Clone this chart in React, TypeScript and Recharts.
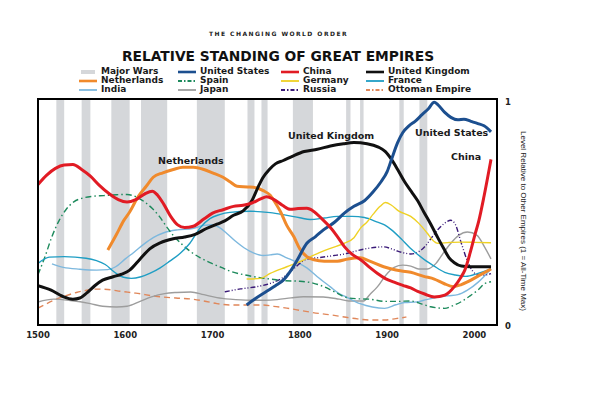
import React from 'react';
import { ComposedChart, Line, XAxis, YAxis, ReferenceArea } from 'recharts';

type Pt = [number, number];

// years of the major wars (shaded bands)
const warPeriods: Pt[] = [
  [1521, 1530], [1550, 1560], [1584, 1605], [1618, 1648], [1682, 1714], [1740, 1748],
  [1756, 1763], [1792, 1815], [1853, 1858], [1869, 1873], [1914, 1919], [1937, 1946],
];

const xTicks = [1500, 1600, 1700, 1800, 1900, 2000];
const yTicks = [0, 1];

const unitedStates: Pt[] = [
  [1739, 0.094], [1750, 0.125], [1762, 0.155], [1772, 0.18], [1781, 0.205], [1790, 0.25],
  [1797, 0.295], [1808, 0.37], [1818, 0.4], [1827, 0.43], [1840, 0.465], [1851, 0.505],
  [1862, 0.535], [1874, 0.56], [1884, 0.6], [1893, 0.645], [1900, 0.69], [1905, 0.745],
  [1912, 0.82], [1918, 0.865], [1925, 0.895], [1932, 0.915], [1940, 0.945], [1947, 0.97],
  [1954, 1.0], [1958, 0.99], [1966, 0.955], [1973, 0.933], [1981, 0.922], [1988, 0.925],
  [1996, 0.915], [2004, 0.905], [2011, 0.895], [2019, 0.868],
];

const china: Pt[] = [
  [1500, 0.633], [1510, 0.675], [1520, 0.705], [1530, 0.72], [1540, 0.722], [1550, 0.7],
  [1560, 0.67], [1570, 0.63], [1582, 0.59], [1592, 0.565], [1602, 0.554], [1612, 0.565],
  [1622, 0.59], [1631, 0.603], [1637, 0.585], [1644, 0.545], [1652, 0.49], [1660, 0.452],
  [1668, 0.44], [1678, 0.446], [1690, 0.478], [1700, 0.505], [1712, 0.52], [1724, 0.535],
  [1735, 0.54], [1745, 0.55], [1755, 0.568], [1762, 0.578], [1770, 0.566], [1780, 0.54],
  [1789, 0.522], [1798, 0.525], [1808, 0.526], [1816, 0.512], [1825, 0.48], [1835, 0.44],
  [1843, 0.4], [1851, 0.355], [1860, 0.32], [1870, 0.295], [1880, 0.262], [1889, 0.235],
  [1898, 0.212], [1908, 0.196], [1918, 0.182], [1927, 0.17], [1935, 0.155], [1943, 0.143],
  [1954, 0.13], [1966, 0.138], [1977, 0.176], [1984, 0.215], [1989, 0.25], [1996, 0.34],
  [2000, 0.4], [2005, 0.47], [2011, 0.58], [2019, 0.745],
];

const unitedKingdom: Pt[] = [
  [1500, 0.18], [1515, 0.16], [1528, 0.133], [1540, 0.12], [1548, 0.125], [1556, 0.148],
  [1565, 0.18], [1574, 0.205], [1586, 0.22], [1596, 0.232], [1605, 0.25], [1617, 0.3],
  [1628, 0.345], [1640, 0.372], [1655, 0.39], [1668, 0.398], [1680, 0.41], [1693, 0.436],
  [1705, 0.455], [1714, 0.47], [1724, 0.495], [1735, 0.515], [1745, 0.56], [1752, 0.62],
  [1758, 0.665], [1765, 0.7], [1772, 0.725], [1781, 0.74], [1792, 0.76], [1805, 0.78],
  [1820, 0.79], [1835, 0.805], [1850, 0.815], [1862, 0.82], [1877, 0.815], [1890, 0.8],
  [1898, 0.78], [1905, 0.745], [1912, 0.7], [1920, 0.645], [1928, 0.6], [1935, 0.56],
  [1942, 0.51], [1950, 0.455], [1958, 0.395], [1965, 0.345], [1971, 0.305], [1977, 0.283],
  [1985, 0.268], [1995, 0.265], [2019, 0.265],
];

const netherlands: Pt[] = [
  [1580, 0.34], [1590, 0.41], [1598, 0.47], [1605, 0.51], [1615, 0.58], [1624, 0.625],
  [1632, 0.665], [1643, 0.685], [1655, 0.7], [1666, 0.71], [1678, 0.71], [1690, 0.7],
  [1700, 0.685], [1712, 0.665], [1720, 0.645], [1728, 0.625], [1740, 0.622], [1750, 0.618],
  [1758, 0.605], [1766, 0.585], [1772, 0.55], [1778, 0.51], [1785, 0.45], [1793, 0.4],
  [1800, 0.345], [1808, 0.31], [1816, 0.296], [1828, 0.29], [1843, 0.29], [1855, 0.3],
  [1869, 0.305], [1880, 0.29], [1896, 0.265], [1910, 0.25], [1927, 0.24], [1942, 0.222],
  [1954, 0.21], [1965, 0.19], [1976, 0.176], [1985, 0.185], [1992, 0.197], [2005, 0.225],
  [2019, 0.255],
];

const spain: Pt[] = [
  [1500, 0.23], [1508, 0.31], [1516, 0.4], [1524, 0.47], [1532, 0.52], [1541, 0.555],
  [1551, 0.572], [1563, 0.58], [1575, 0.583], [1590, 0.587], [1602, 0.588], [1612, 0.578],
  [1622, 0.555], [1631, 0.525], [1639, 0.49], [1648, 0.44], [1656, 0.4], [1665, 0.365],
  [1674, 0.335], [1686, 0.305], [1697, 0.283], [1710, 0.262], [1720, 0.245], [1735, 0.23],
  [1751, 0.218], [1766, 0.21], [1780, 0.203], [1800, 0.2], [1815, 0.192], [1828, 0.175],
  [1840, 0.152], [1853, 0.128], [1865, 0.122], [1880, 0.12], [1897, 0.11], [1912, 0.11],
  [1927, 0.112], [1940, 0.098], [1950, 0.086], [1966, 0.079], [1976, 0.092], [1985, 0.109],
  [1995, 0.135], [2004, 0.161], [2012, 0.19], [2019, 0.198],
];

const germany: Pt[] = [
  [1739, 0.21], [1755, 0.213], [1766, 0.235], [1785, 0.265], [1804, 0.295], [1820, 0.324],
  [1835, 0.347], [1851, 0.37], [1862, 0.395], [1870, 0.44], [1877, 0.465], [1884, 0.5],
  [1892, 0.535], [1898, 0.552], [1905, 0.54], [1913, 0.515], [1927, 0.49], [1936, 0.46],
  [1946, 0.415], [1952, 0.385], [1958, 0.37], [1970, 0.373], [1985, 0.375], [2000, 0.374],
  [2019, 0.372],
];

const france: Pt[] = [
  [1500, 0.28], [1513, 0.308], [1530, 0.31], [1555, 0.303], [1567, 0.292], [1577, 0.275],
  [1589, 0.237], [1598, 0.218], [1607, 0.213], [1618, 0.22], [1628, 0.235], [1640, 0.26],
  [1651, 0.29], [1663, 0.325], [1674, 0.37], [1686, 0.44], [1697, 0.48], [1708, 0.498],
  [1720, 0.508], [1743, 0.513], [1766, 0.507], [1781, 0.498], [1800, 0.484], [1812, 0.476],
  [1828, 0.483], [1843, 0.49], [1860, 0.49], [1874, 0.485], [1888, 0.466], [1897, 0.452],
  [1905, 0.43], [1916, 0.39], [1926, 0.35], [1935, 0.32], [1945, 0.29], [1953, 0.27],
  [1966, 0.24], [1978, 0.228], [1990, 0.222], [2004, 0.235], [2019, 0.255],
];

const india: Pt[] = [
  [1516, 0.278], [1529, 0.262], [1548, 0.254], [1567, 0.25], [1580, 0.252], [1589, 0.265],
  [1600, 0.3], [1610, 0.33], [1621, 0.365], [1632, 0.395], [1645, 0.418], [1660, 0.43],
  [1677, 0.436], [1690, 0.45], [1700, 0.453], [1708, 0.44], [1716, 0.415], [1726, 0.38],
  [1736, 0.35], [1748, 0.325], [1758, 0.315], [1766, 0.318], [1774, 0.322], [1785, 0.305],
  [1797, 0.285], [1808, 0.26], [1820, 0.22], [1835, 0.175], [1845, 0.145], [1853, 0.13],
  [1869, 0.1], [1883, 0.085], [1897, 0.079], [1910, 0.095], [1920, 0.105], [1934, 0.108],
  [1945, 0.118], [1957, 0.128], [1970, 0.135], [1981, 0.14], [1992, 0.16], [2004, 0.195],
  [2019, 0.255],
];

const japan: Pt[] = [
  [1500, 0.107], [1518, 0.12], [1537, 0.114], [1560, 0.1], [1574, 0.088], [1590, 0.085],
  [1602, 0.088], [1617, 0.11], [1630, 0.13], [1645, 0.145], [1659, 0.15], [1675, 0.152],
  [1690, 0.14], [1705, 0.127], [1720, 0.12], [1743, 0.115], [1760, 0.115], [1774, 0.118],
  [1790, 0.126], [1804, 0.131], [1827, 0.13], [1845, 0.12], [1856, 0.112], [1873, 0.112],
  [1880, 0.14], [1889, 0.176], [1898, 0.225], [1908, 0.262], [1918, 0.272], [1927, 0.268],
  [1936, 0.255], [1946, 0.255], [1956, 0.28], [1965, 0.33], [1973, 0.37], [1982, 0.405],
  [1992, 0.42], [2003, 0.405], [2012, 0.35], [2019, 0.3],
];

const russia: Pt[] = [
  [1714, 0.153], [1732, 0.166], [1751, 0.176], [1770, 0.196], [1780, 0.215], [1789, 0.243],
  [1797, 0.27], [1804, 0.292], [1812, 0.302], [1820, 0.305], [1839, 0.315], [1851, 0.322],
  [1862, 0.333], [1875, 0.345], [1888, 0.352], [1896, 0.354], [1905, 0.345], [1912, 0.335],
  [1920, 0.326], [1927, 0.322], [1935, 0.33], [1943, 0.354], [1950, 0.39], [1958, 0.43],
  [1966, 0.46], [1973, 0.473], [1978, 0.455], [1985, 0.37], [1992, 0.29], [1998, 0.245],
  [2004, 0.228], [2012, 0.228], [2019, 0.234],
];

const ottoman: Pt[] = [
  [1500, 0.08], [1510, 0.1], [1521, 0.12], [1533, 0.137], [1544, 0.15], [1556, 0.16],
  [1567, 0.165], [1580, 0.163], [1595, 0.155], [1612, 0.147], [1635, 0.133], [1658, 0.125],
  [1677, 0.12], [1690, 0.112], [1705, 0.1], [1720, 0.094], [1740, 0.094], [1758, 0.094],
  [1770, 0.088], [1785, 0.08], [1800, 0.07], [1815, 0.06], [1835, 0.05], [1853, 0.039],
  [1866, 0.032], [1880, 0.027], [1897, 0.027], [1910, 0.033], [1922, 0.04],
];

type Series = { name: string; data: Pt[]; color: string; width: number; dash?: string };

const US: Series = { name: 'United States', data: unitedStates, color: '#1c4f8f', width: 3 };
const CN: Series = { name: 'China', data: china, color: '#e11b24', width: 3 };
const UK: Series = { name: 'United Kingdom', data: unitedKingdom, color: '#111111', width: 3 };
const NL: Series = { name: 'Netherlands', data: netherlands, color: '#f08a2c', width: 3 };
const ES: Series = { name: 'Spain', data: spain, color: '#1d8a5c', width: 1.4, dash: '6 3 1.5 3' };
const DE: Series = { name: 'Germany', data: germany, color: '#efd124', width: 1.4 };
const FR: Series = { name: 'France', data: france, color: '#1f9ec4', width: 1.4 };
const IN: Series = { name: 'India', data: india, color: '#7db8de', width: 1.4 };
const JP: Series = { name: 'Japan', data: japan, color: '#9d9d9d', width: 1.4 };
const RU: Series = { name: 'Russia', data: russia, color: '#3a1a78', width: 1.4, dash: '5 2 1 2 1 2' };
const OT: Series = { name: 'Ottoman Empire', data: ottoman, color: '#e0875a', width: 1.4, dash: '6 4' };

// drawing order: thin lines under the thick ones
const drawOrder = [OT, JP, IN, RU, ES, FR, DE, NL, UK, US, CN];
const legendRows = [
  ['wars', US, CN, UK],
  [NL, ES, DE, FR],
  [IN, JP, RU, OT],
];

const WAR_FILL = '#d5d7da';
const FONT = '"DejaVu Sans", sans-serif';

const toRows = (pts: Pt[]) => pts.map(([year, v]) => ({ year, v }));

const Swatch = ({ s }: { s: Series | 'wars' }) => (
  <svg width={18} height={6} style={{ marginRight: 4, flex: 'none' }}>
    {s === 'wars' ? (
      <rect x={2} y={1} width={14} height={4} fill={WAR_FILL} />
    ) : (
      <line x1={0} x2={18} y1={3} y2={3} stroke={s.color} strokeWidth={s.width >= 3 ? 2.6 : 1.8} strokeDasharray={s.dash ? '4 2 1.5 2' : undefined} />
    )}
  </svg>
);

const colX = [79, 178, 281, 366];

const plotLabel = (text: string, left: number, top: number) => (
  <div style={{ position: 'absolute', left, top, fontFamily: FONT, fontWeight: 700, fontSize: 9.5, color: '#1a1a1a', whiteSpace: 'nowrap', lineHeight: 1 }}>
    {text}
  </div>
);

export default function App() {
  return (
    <div style={{ position: 'absolute', left: 0, top: 0, width: 600, height: 395, background: '#fff', overflow: 'hidden' }}>
      <div style={{ position: 'absolute', left: 0, width: 557, top: 31, textAlign: 'center', fontFamily: FONT, fontWeight: 700, fontSize: 6, letterSpacing: 1.45, color: '#222', lineHeight: 1 }}>
        THE CHANGING WORLD ORDER
      </div>
      <div style={{ position: 'absolute', left: 0, width: 556, top: 50, textAlign: 'center', fontFamily: FONT, fontWeight: 700, fontSize: 13.8, color: '#111', lineHeight: 1 }}>
        RELATIVE STANDING OF GREAT EMPIRES
      </div>
      {legendRows.map((row, ri) =>
        row.map((s, ci) => (
          <div key={`${ri}-${ci}`} style={{ position: 'absolute', left: colX[ci], top: 67 + ri * 9, display: 'flex', alignItems: 'center', fontFamily: FONT, fontWeight: 700, fontSize: 9, color: '#1a1a1a', lineHeight: 1, whiteSpace: 'nowrap' }}>
            <Swatch s={s as Series | 'wars'} />
            {s === 'wars' ? 'Major Wars' : (s as Series).name}
          </div>
        ))
      )}

      <ComposedChart width={600} height={395} margin={{ top: 99, right: 52, bottom: 44, left: 38 }}>
        <XAxis
          type="number"
          dataKey="year"
          domain={[1500, 2027]}
          allowDataOverflow
          ticks={xTicks}
          interval={0}
          height={25}
          axisLine={false}
          tickLine={false}
          tickSize={0}
          tickMargin={6}
          tick={{ fontSize: 8.5, fontWeight: 700, fill: '#222', fontFamily: FONT }}
        />
        <YAxis
          orientation="right"
          type="number"
          domain={[0, 1.015]}
          allowDataOverflow
          ticks={yTicks}
          interval={0}
          width={50}
          axisLine={false}
          tickLine={false}
          tickSize={0}
          tickMargin={7}
          tick={{ fontSize: 8.5, fontWeight: 700, fill: '#222', fontFamily: FONT }}
        />
        {warPeriods.map(([a, b]) => (
          <ReferenceArea key={a} x1={a} x2={b} fill={WAR_FILL} fillOpacity={1} stroke="none" ifOverflow="hidden" />
        ))}
        {drawOrder.map((s) => (
          <Line
            key={s.name}
            data={toRows(s.data)}
            dataKey="v"
            type="monotone"
            stroke={s.color}
            strokeWidth={s.width}
            strokeDasharray={s.dash}
            dot={false}
            activeDot={false}
            isAnimationActive={false}
          />
        ))}
      </ComposedChart>

      {/* plot frame */}
      <div style={{ position: 'absolute', left: 37, top: 98, width: 461, height: 228, border: '2px solid #000', boxSizing: 'border-box', pointerEvents: 'none' }} />

      {plotLabel('Netherlands', 158, 156)}
      {plotLabel('United Kingdom', 288, 131)}
      {plotLabel('United States', 415, 128)}
      {plotLabel('China', 451, 152)}

      <div style={{ position: 'absolute', left: 523, top: 221, width: 220, textAlign: 'center', transform: 'translate(-50%, -50%) rotate(90deg)', fontFamily: '"Liberation Sans", sans-serif', fontSize: 8, color: '#222', whiteSpace: 'nowrap', lineHeight: 1 }}>
        Level Relative to Other Empires (1 = All-Time Max)
      </div>
    </div>
  );
}
